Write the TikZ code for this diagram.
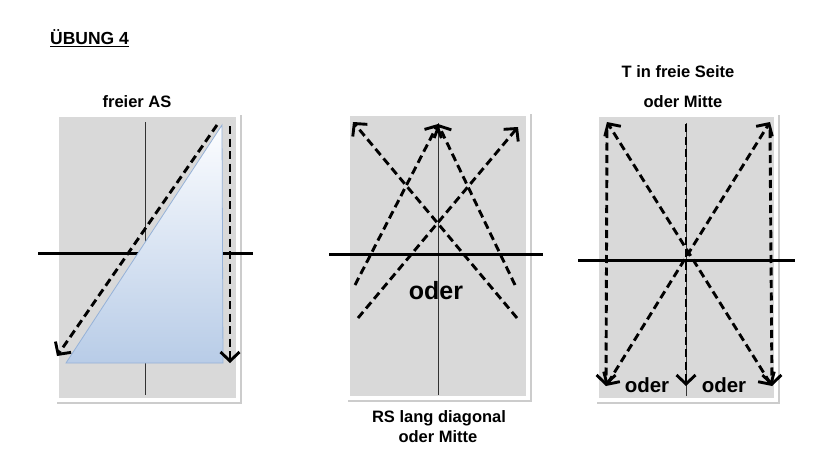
\documentclass[tikz,border=0pt]{standalone}
\usepackage{fontspec}
\setmainfont{Liberation Sans}
\usetikzlibrary{arrows.meta,shadows}
\definecolor{courtgray}{RGB}{217,217,217}
\definecolor{wedgetop}{RGB}{252,253,255}
\definecolor{wedgebot}{RGB}{184,204,231}
\definecolor{wedgeedge}{RGB}{150,178,216}
\definecolor{axisgray}{RGB}{50,50,50}
\tikzset{
  frame/.style={fill=white, drop shadow={shadow xshift=1.5pt,shadow yshift=-2pt,opacity=0.4}},
  court/.style={fill=courtgray},
  midline/.style={draw=axisgray, line width=0.8pt},
  netline/.style={draw=black, line width=3pt},
  run/.style={draw=black, line width=2.9pt, dash pattern=on 8pt off 4.5pt,
    -{Straight Barb[length=9pt,width=19pt]}},
  runboth/.style={run, {Straight Barb[length=9pt,width=19pt]}-{Straight Barb[length=9pt,width=19pt]}},
  caption/.style={font=\bfseries\fontsize{16.5}{19}\selectfont, inner sep=0pt},
  bigword/.style={font=\bfseries\fontsize{25}{29}\selectfont, inner sep=0pt},
  midword/.style={font=\bfseries\fontsize{20.5}{24}\selectfont, inner sep=0pt}
}
\begin{document}
\begin{tikzpicture}[x=1pt,y=-1pt]
  \useasboundingbox[fill=white] (0,0) rectangle (820,455);

  \node[anchor=west, font=\bfseries\fontsize{17.5}{20}\selectfont, inner sep=0pt] (title) at (50,38) {\underline{ÜBUNG 4}};

  % panel 1: freier AS
  \node[caption] (cap1) at (137,102) {freier AS};
  \path[frame] (55,113) rectangle (240,402);
  \path[court] (59,117) rectangle (236,398);
  \coordinate (m1t) at (145,122);
  \coordinate (m1b) at (145,395);
  \coordinate (n1l) at (38,253);
  \coordinate (n1r) at (253,253);
  \draw[midline] (m1t) -- (m1b);
  \draw[netline] (n1l) -- (n1r);
  \coordinate (w1) at (222,125);
  \coordinate (w2) at (66,363);
  \coordinate (w3) at (223,363);
  \shade[top color=wedgetop, bottom color=wedgebot, draw=wedgeedge, line width=0.8pt] (w1) -- (w2) -- (w3) -- cycle;
  \coordinate (a1s) at (217,125);
  \coordinate (a1e) at (57,356);
  \coordinate (b1s) at (230,126);
  \coordinate (b1e) at (230,363);
  \draw[run] (a1s) -- (a1e);
  \draw[run] (b1s) -- (b1e);

  % panel 2: RS lang diagonal
  \path[frame] (346,112) rectangle (530,400);
  \path[court] (350,116) rectangle (526,396);
  \coordinate (m2t) at (438,123);
  \coordinate (m2b) at (438,395);
  \coordinate (n2l) at (329,254);
  \coordinate (n2r) at (543,254);
  \draw[midline] (m2t) -- (m2b);
  \draw[netline] (n2l) -- (n2r);
  \coordinate (tl2) at (353,122);
  \coordinate (tm2) at (438,124);
  \coordinate (tr2) at (518,127);
  \coordinate (s2a) at (517,318);
  \coordinate (s2b) at (355,285);
  \coordinate (s2c) at (515,285);
  \coordinate (s2d) at (358,318);
  \draw[run] (s2a) -- (tl2);
  \draw[run] (s2b) -- (tm2);
  \draw[run] (s2c) -- (tm2);
  \draw[run] (s2d) -- (tr2);
  \node[bigword] (or2) at (436,291) {oder};
  \node[caption] (cap2a) at (439,418) {RS lang diagonal};
  \node[caption] (cap2b) at (438,437) {oder Mitte};

  % panel 3: T in freie Seite
  \node[caption] (cap3a) at (678,72) {T in freie Seite};
  \node[caption] (cap3b) at (683,102) {oder Mitte};
  \path[frame] (595,113) rectangle (778,402);
  \path[court] (599,117) rectangle (774,398);
  \coordinate (m3t) at (686,123);
  \coordinate (m3b) at (686,396);
  \coordinate (n3l) at (578,260);
  \coordinate (n3r) at (795,260);
  \draw[midline] (m3t) -- (m3b);
  \draw[netline] (n3l) -- (n3r);
  \coordinate (tl3) at (607,122);
  \coordinate (tr3) at (770,122);
  \coordinate (tm3) at (686,124);
  \coordinate (bl3) at (606,386);
  \coordinate (br3) at (772,386);
  \coordinate (bm3) at (686,386);
  \coordinate (vl3) at (607,130);
  \coordinate (vr3) at (770,130);
  \draw[runboth] (br3) -- (tl3);
  \draw[runboth] (bl3) -- (tr3);
  \draw[run] (vl3) -- (bl3);
  \draw[run] (vr3) -- (br3);
  \draw[run] (tm3) -- (bm3);
  \node[midword] (or3a) at (647,385) {oder};
  \node[midword] (or3b) at (724,385) {oder};
\end{tikzpicture}
\end{document}
